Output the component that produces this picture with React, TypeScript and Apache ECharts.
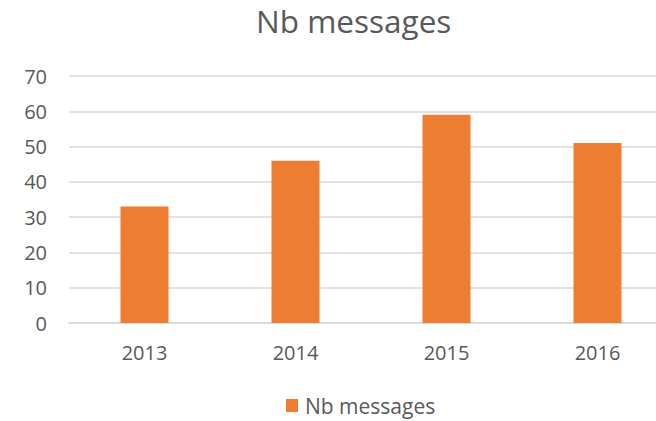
import React, { useEffect, useRef } from "react";
import * as echarts from "echarts";

const categories = ["2013", "2014", "2015", "2016"];
const values = [33, 46, 59, 51];
const seriesName = "Nb messages";
const titleText = "Nb messages";

export default function App() {
  const ref = useRef<HTMLDivElement>(null);
  useEffect(() => {
    if (!ref.current) return;
    const chart = echarts.init(ref.current, undefined, { renderer: "svg" });
    const font = "'Open Sans', sans-serif";
    chart.setOption({
      animation: false,
      backgroundColor: "#ffffff",
      title: {
        text: titleText,
        left: 251,
        top: -1,
        textStyle: { fontFamily: font, fontSize: 31.5, fontWeight: "normal", color: "#595959" },
      },
      legend: {
        top: 395,
        left: 286,
        padding: 0,
        itemWidth: 12,
        itemHeight: 13,
        icon: "rect",
        itemGap: 10,
        textStyle: { fontFamily: font, fontSize: 21, color: "#595959", padding: [0, 0, 0, 2] },
        data: [seriesName],
      },
      grid: { left: 69, width: 604, top: 76, height: 247, containLabel: false, outerBoundsMode: "none" },
      xAxis: {
        type: "category",
        data: categories,
        axisLine: { lineStyle: { color: "#d9d9d9", width: 1.5 } },
        axisTick: { show: false },
        axisLabel: { fontFamily: font, fontSize: 20, color: "#595959", margin: 19 },
      },
      yAxis: {
        type: "value",
        min: 0,
        max: 70,
        interval: 10,
        axisLine: { show: false },
        axisTick: { show: false },
        splitLine: { lineStyle: { color: "#d9d9d9", width: 1.5 } },
        axisLabel: { fontFamily: font, fontSize: 20, color: "#595959", margin: 22 },
      },
      series: [
        {
          name: seriesName,
          type: "bar",
          data: values,
          barWidth: 48,
          itemStyle: { color: "#ED7D31" },
        },
      ],
    });
    return () => chart.dispose();
  }, []);
  return <div ref={ref} style={{ width: 656, height: 421, position: "absolute", left: 0, top: 0 }} />;
}
